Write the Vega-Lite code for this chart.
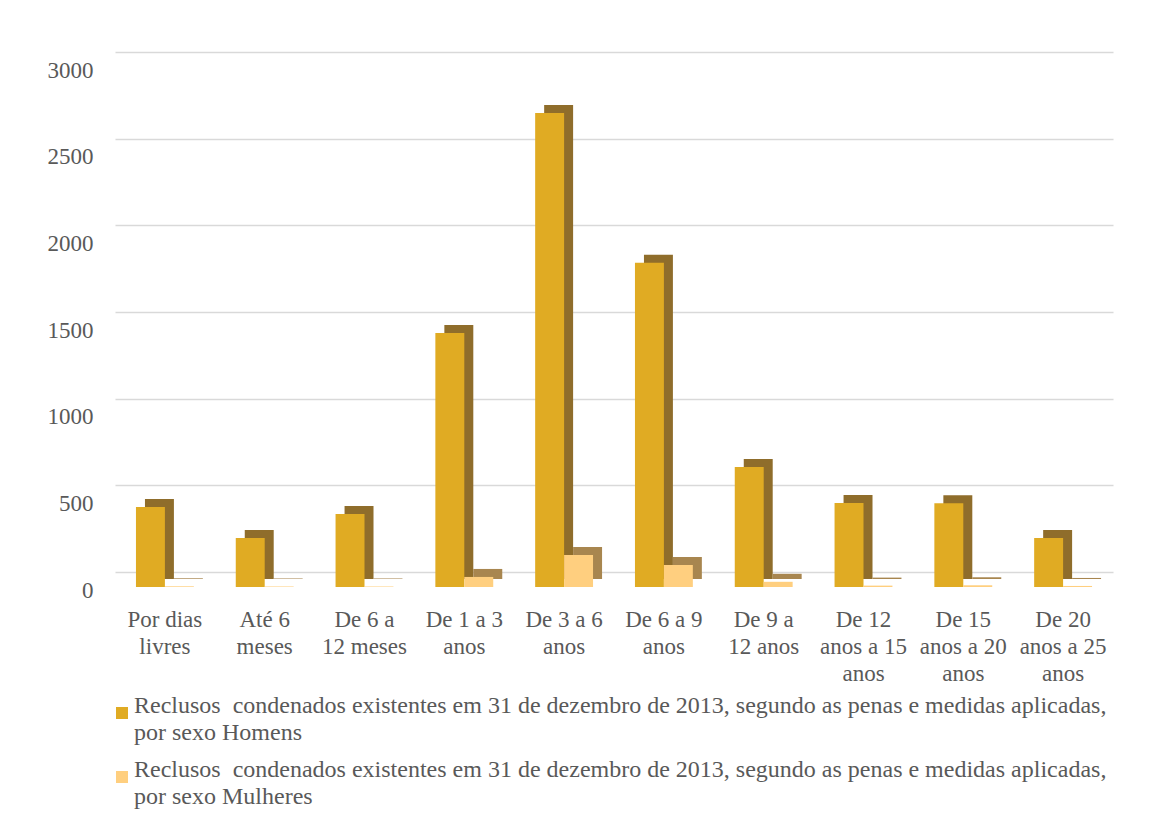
{
  "$schema": "https://vega.github.io/schema/vega-lite/v6.json",
  "autosize": "none",
  "width": 998,
  "height": 520,
  "padding": {"left": 115, "top": 67, "right": 62, "bottom": 237},
  "background": "white",
  "data": {
    "values": [
      {"pena": "Por dias livres", "sexo": "Homens", "valor": 462},
      {"pena": "Por dias livres", "sexo": "Mulheres", "valor": 4},
      {"pena": "Até 6 meses", "sexo": "Homens", "valor": 283},
      {"pena": "Até 6 meses", "sexo": "Mulheres", "valor": 3},
      {"pena": "De 6 a 12 meses", "sexo": "Homens", "valor": 421},
      {"pena": "De 6 a 12 meses", "sexo": "Mulheres", "valor": 3},
      {"pena": "De 1 a 3 anos", "sexo": "Homens", "valor": 1466},
      {"pena": "De 1 a 3 anos", "sexo": "Mulheres", "valor": 58},
      {"pena": "De 3 a 6 anos", "sexo": "Homens", "valor": 2735},
      {"pena": "De 3 a 6 anos", "sexo": "Mulheres", "valor": 185},
      {"pena": "De 6 a 9 anos", "sexo": "Homens", "valor": 1870},
      {"pena": "De 6 a 9 anos", "sexo": "Mulheres", "valor": 127},
      {"pena": "De 9 a 12 anos", "sexo": "Homens", "valor": 692},
      {"pena": "De 9 a 12 anos", "sexo": "Mulheres", "valor": 30},
      {"pena": "De 12 anos a 15 anos", "sexo": "Homens", "valor": 485},
      {"pena": "De 12 anos a 15 anos", "sexo": "Mulheres", "valor": 8},
      {"pena": "De 15 anos a 20 anos", "sexo": "Homens", "valor": 483},
      {"pena": "De 15 anos a 20 anos", "sexo": "Mulheres", "valor": 10},
      {"pena": "De 20 anos a 25 anos", "sexo": "Homens", "valor": 283},
      {"pena": "De 20 anos a 25 anos", "sexo": "Mulheres", "valor": 6}
    ]
  },
  "encoding": {
    "x": {
      "field": "pena",
      "type": "nominal",
      "sort": null,
      "scale": {"paddingInner": 0.42, "paddingOuter": 0.21},
      "axis": {
        "title": null,
        "labelAngle": 0,
        "ticks": false,
        "domain": false,
        "grid": false,
        "labelPadding": 21,
        "labelFontSize": 23,
        "labelLineHeight": 27,
        "labelLimit": 0,
        "labelExpr": "({'Por dias livres': ['Por dias', 'livres'], 'Até 6 meses': ['Até 6', 'meses'], 'De 6 a 12 meses': ['De 6 a', '12 meses'], 'De 1 a 3 anos': ['De 1 a 3', 'anos'], 'De 3 a 6 anos': ['De 3 a 6', 'anos'], 'De 6 a 9 anos': ['De 6 a 9', 'anos'], 'De 9 a 12 anos': ['De 9 a', '12 anos'], 'De 12 anos a 15 anos': ['De 12', 'anos a 15', 'anos'], 'De 15 anos a 20 anos': ['De 15', 'anos a 20', 'anos'], 'De 20 anos a 25 anos': ['De 20', 'anos a 25', 'anos']})[datum.label]"
      }
    },
    "y": {
      "field": "valor",
      "type": "quantitative",
      "scale": {"domain": [0, 3000], "nice": false},
      "axis": {
        "title": null,
        "values": [0, 500, 1000, 1500, 2000, 2500, 3000],
        "format": "d",
        "ticks": false,
        "domain": false,
        "grid": true,
        "gridColor": "#D9D9D9",
        "gridWidth": 1.5,
        "tickOffset": -15,
        "labelOffset": 18,
        "labelPadding": 22,
        "labelFontSize": 23
      }
    }
  },
  "layer": [
    {
      "mark": {"type": "bar", "yOffset": -8},
      "encoding": {
        "xOffset": {"field": "sexo", "type": "nominal", "sort": ["Homens", "Mulheres"], "scale": {"range": [9, 66.9]}},
        "color": {
          "field": "sexo",
          "type": "nominal",
          "scale": {"domain": ["Homens", "Mulheres"], "range": ["#8F6D2B", "#A8864F"]},
          "legend": null
        }
      }
    },
    {
      "mark": {"type": "bar"},
      "encoding": {
        "xOffset": {"field": "sexo", "type": "nominal", "sort": ["Homens", "Mulheres"]},
        "color": {
          "field": "sexo",
          "type": "nominal",
          "scale": {"domain": ["Homens", "Mulheres"], "range": ["#E0AB23", "#FFCF7F"]},
          "legend": {
            "title": null,
            "orient": "none",
            "legendX": -5,
            "legendY": 634,
            "direction": "vertical",
            "symbolType": "square",
            "symbolSize": 144,
            "symbolStrokeWidth": 0,
            "labelFontSize": 24,
            "labelLimit": 1100,
            "labelBaseline": "alphabetic",
            "labelOffset": 0,
            "rowPadding": 13,
            "labelExpr": "['Reclusos\u00a0 condenados existentes em 31 de dezembro de 2013, segundo as penas e medidas aplicadas,', 'por sexo ' + datum.label]"
          }
        }
      }
    }
  ],
  "resolve": {"scale": {"color": "independent", "xOffset": "independent"}},
  "config": {
    "font": "Liberation Serif",
    "view": {"stroke": null},
    "style": {"guide-label": {"lineHeight": 27}},
    "axis": {"labelFont": "Liberation Serif", "labelColor": "#595959"},
    "legend": {"labelFont": "Liberation Serif", "labelColor": "#595959"}
  }
}
